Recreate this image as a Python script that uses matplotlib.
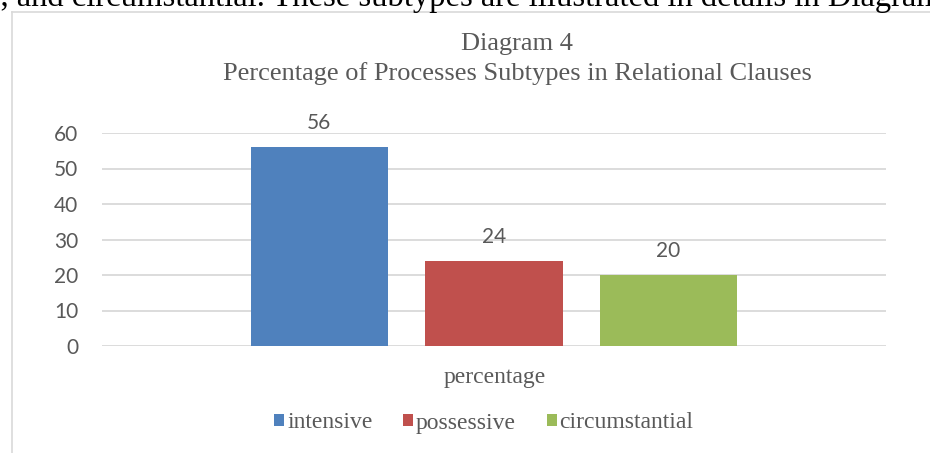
import matplotlib
matplotlib.use("Agg")
import matplotlib.pyplot as plt
from matplotlib.patches import Patch
from matplotlib.lines import Line2D

categories = ["intensive", "possessive", "circumstantial"]
values = [56, 24, 20]
colors = ["#4F81BD", "#C0504D", "#9BBB59"]
yticks = [0, 10, 20, 30, 40, 50, 60]
x_label = "percentage"
title_lines = ["Diagram 4", "Percentage of Processes Subtypes in Relational Clauses"]
doc_text = "e, and circumstantial. These subtypes are illustrated in details in Diagram"

W, H = 930, 453
fig = plt.figure(figsize=(W / 100, H / 100), dpi=100)
fig.patch.set_facecolor("white")

def fx(px):
    return px / W

def fy(py):
    return 1 - py / H

serif = "Liberation Serif"
sans = "Lato"
gray = "#595959"
grid = "#D9D9D9"

# document text above the chart
fig.text(fx(-14), fy(6), doc_text, fontsize=23.5, family=serif, color="black",
         ha="left", va="baseline")

# chart area border
fig.add_artist(Line2D([fx(12), fx(935)], [fy(12), fy(12)], color=grid, lw=1.2))
fig.add_artist(Line2D([fx(12), fx(12)], [fy(12), fy(460)], color=grid, lw=1.2))

ax = fig.add_axes([fx(102), fy(346), fx(886) - fx(102), fy(133) - fy(346)])
xs = list(range(len(categories)))
bars = ax.bar(xs, values, width=0.785, color=colors, zorder=3)
ax.set_xlim(-1.245, 3.245)
ax.set_ylim(0, 60)
ax.set_yticks(yticks)
ax.set_yticklabels([str(t) for t in yticks], family=sans, fontsize=15, color=gray)
ax.tick_params(axis="y", length=0, pad=17)
ax.set_xticks([])
for s in ax.spines.values():
    s.set_visible(False)
ax.yaxis.grid(True, color=grid, lw=1.3, zorder=0)
ax.set_axisbelow(True)
ax.patch.set_alpha(0)

for x, v in zip(xs, values):
    ax.annotate(str(v), (x, v), xytext=(0, 13), textcoords="offset points",
                ha="center", va="baseline", family=sans, fontsize=15, color=gray)

fig.text(fx(517), fy(50), title_lines[0], family=serif, fontsize=19, color=gray,
         ha="center", va="baseline")
fig.text(fx(517), fy(80), title_lines[1], family=serif, fontsize=19, color=gray,
         ha="center", va="baseline")

fig.text(fx(495), fy(383), x_label, family=serif, fontsize=17, color=gray,
         ha="center", va="baseline")

handles = [Patch(facecolor=c, edgecolor="none") for c in colors]
leg = fig.legend(handles, categories, loc="center", bbox_to_anchor=(fx(484), fy(423)),
                 ncol=3, frameon=False, prop={"family": serif, "size": 17},
                 handlelength=0.42, handleheight=0.42, handletextpad=0.12,
                 columnspacing=1.3, borderaxespad=0)
for t in leg.get_texts():
    t.set_color(gray)

fig.savefig("out.png", dpi=100, facecolor="white")
